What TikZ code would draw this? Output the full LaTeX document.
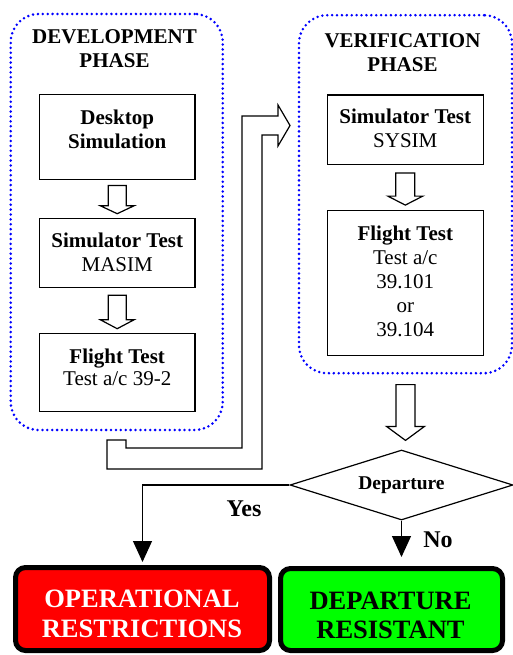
\documentclass[tikz,border=0pt]{standalone}
\usepackage{fontspec}
\setmainfont{Liberation Serif}
\usetikzlibrary{shapes.geometric,arrows.meta,calc}

\tikzset{
  phasebox/.style={draw=blue, line width=2.8pt, dash pattern=on 0pt off 4.9pt,
    line cap=round, rounded corners=28pt, inner sep=0pt},
  stagebox/.style={draw, line width=1.2pt, fill=white, inner sep=0pt},
  stagetext/.style={align=center, inner sep=0pt, font=\fontsize{21}{24}\selectfont},
  phasetitle/.style={align=center, inner sep=0pt, font=\bfseries\fontsize{21}{24}\selectfont},
  hollow/.style={draw, line width=1.2pt, fill=white, line join=miter},
  decision/.style={diamond, draw, line width=1.2pt, aspect=3.2, inner sep=0pt,
    font=\bfseries\fontsize{19.5}{22}\selectfont},
  outcome/.style={draw=black, line width=5pt, rounded corners=10pt, inner sep=0pt},
  outcometext/.style={align=center, inner sep=0pt, font=\bfseries\fontsize{26.5}{29.5}\selectfont},
  flow/.style={line width=1.2pt, -{Triangle[width=19pt,length=21pt]}},
  answer/.style={inner sep=0pt, anchor=base, font=\bfseries\fontsize{24}{28}\selectfont}
}

% hollow block arrow pointing down from node anchor #1 to node anchor #2
% #3 gap below #1, #4 gap above #2, #5 half shaft width, #6 half head width, #7 head length
\newcommand\hollowdown[7]{%
  \draw[hollow] let \p1=#1, \p2=#2 in
    ({\x1-#5},{\y1-#3}) -- ({\x1+#5},{\y1-#3}) -- ({\x1+#5},{\y2+#4+#7})
    -- ({\x1+#6},{\y2+#4+#7}) -- (\x1,{\y2+#4}) -- ({\x1-#6},{\y2+#4+#7})
    -- ({\x1-#5},{\y2+#4+#7}) -- cycle;}

\begin{document}
\begin{tikzpicture}[x=1pt, y=-1pt]
\useasboundingbox (0,0) rectangle (513,655);

% phase frames
\node[phasebox, minimum width=212pt, minimum height=416pt] (dev) at (116.7,222) {};
\node[phasebox, minimum width=213pt, minimum height=358pt] (ver) at (405.5,194.2) {};
\node[phasetitle] (devT) at (114.5,48.6) {DEVELOPMENT\\PHASE};
\node[phasetitle] (verT) at (402.5,52.6) {VERIFICATION\\PHASE};

% development phase stages
\node[stagebox, minimum width=155.7pt, minimum height=85.7pt] (desk) at (117.2,137) {};
\node[stagebox, minimum width=155.7pt, minimum height=69.4pt] (masim) at (117.2,253) {};
\node[stagebox, minimum width=155.7pt, minimum height=78.4pt] (flightL) at (117.2,372.5) {};
\node[stagetext, font=\bfseries\fontsize{21}{24}\selectfont] (deskT) at (117.2,129) {Desktop\\Simulation};
\node[stagetext] (masimT) at (117.2,252.5) {\textbf{Simulator Test}\\MASIM};
\node[stagetext, font=\fontsize{21}{22}\selectfont] (flightLT) at (117.2,367.5) {\textbf{Flight Test}\\Test a/c 39-2};

% verification phase stages
\node[stagebox, minimum width=155.7pt, minimum height=69.3pt] (sysim) at (405.3,129.7) {};
\node[stagebox, minimum width=155.7pt, minimum height=145pt] (flightR) at (405.3,283.2) {};
\node[stagetext] (sysimT) at (405.3,128.7) {\textbf{Simulator Test}\\SYSIM};
\node[stagetext] (flightRT) at (405.3,281.5) {\textbf{Flight Test}\\Test a/c\\39.101\\or\\39.104};

% hollow arrows between stages
\hollowdown{(desk.south)}{(masim.north)}{5pt}{4pt}{9pt}{17pt}{8pt}
\hollowdown{(masim.south)}{(flightL.north)}{7pt}{4pt}{9pt}{17pt}{9pt}
\hollowdown{(sysim.south)}{(flightR.north)}{8pt}{5pt}{9.5pt}{17.5pt}{9pt}

% bent hollow arrow from development to verification
\draw[hollow] (107,440) -- (126,440) -- (126,448) -- (242,448) -- (242,116)
  -- (278,116) -- (278,105) -- (290,125.5) -- (278,146) -- (278,135)
  -- (262,135) -- (262,469) -- (107,469) -- cycle;

% decision
\node[decision, minimum width=223pt, minimum height=70pt] (dec) at (401.5,485) {Departure};
\hollowdown{(ver.south)}{(dec.north)}{10pt}{9pt}{9.5pt}{19pt}{14pt}

% outcomes
\node[outcome, fill=red, minimum width=254pt, minimum height=83pt] (ops) at (142.5,609) {};
\node[outcome, fill=green, minimum width=222pt, minimum height=82pt] (res) at (391.5,609.5) {};
\node[outcometext, text=white] (opsT) at (142,614) {OPERATIONAL\\RESTRICTIONS};
\node[outcometext, text=black] (resT) at (390.5,615.5) {DEPARTURE\\RESISTANT};

\draw[flow, shorten >=3pt] (dec.west) -| (ops.north);
\draw[flow, shorten >=9pt] (dec.south) -- (dec.south |- res.north);
\node[answer] (yes) at (244,516.7) {Yes};
\node[answer] (no) at (438,547.3) {No};
\end{tikzpicture}
\end{document}
